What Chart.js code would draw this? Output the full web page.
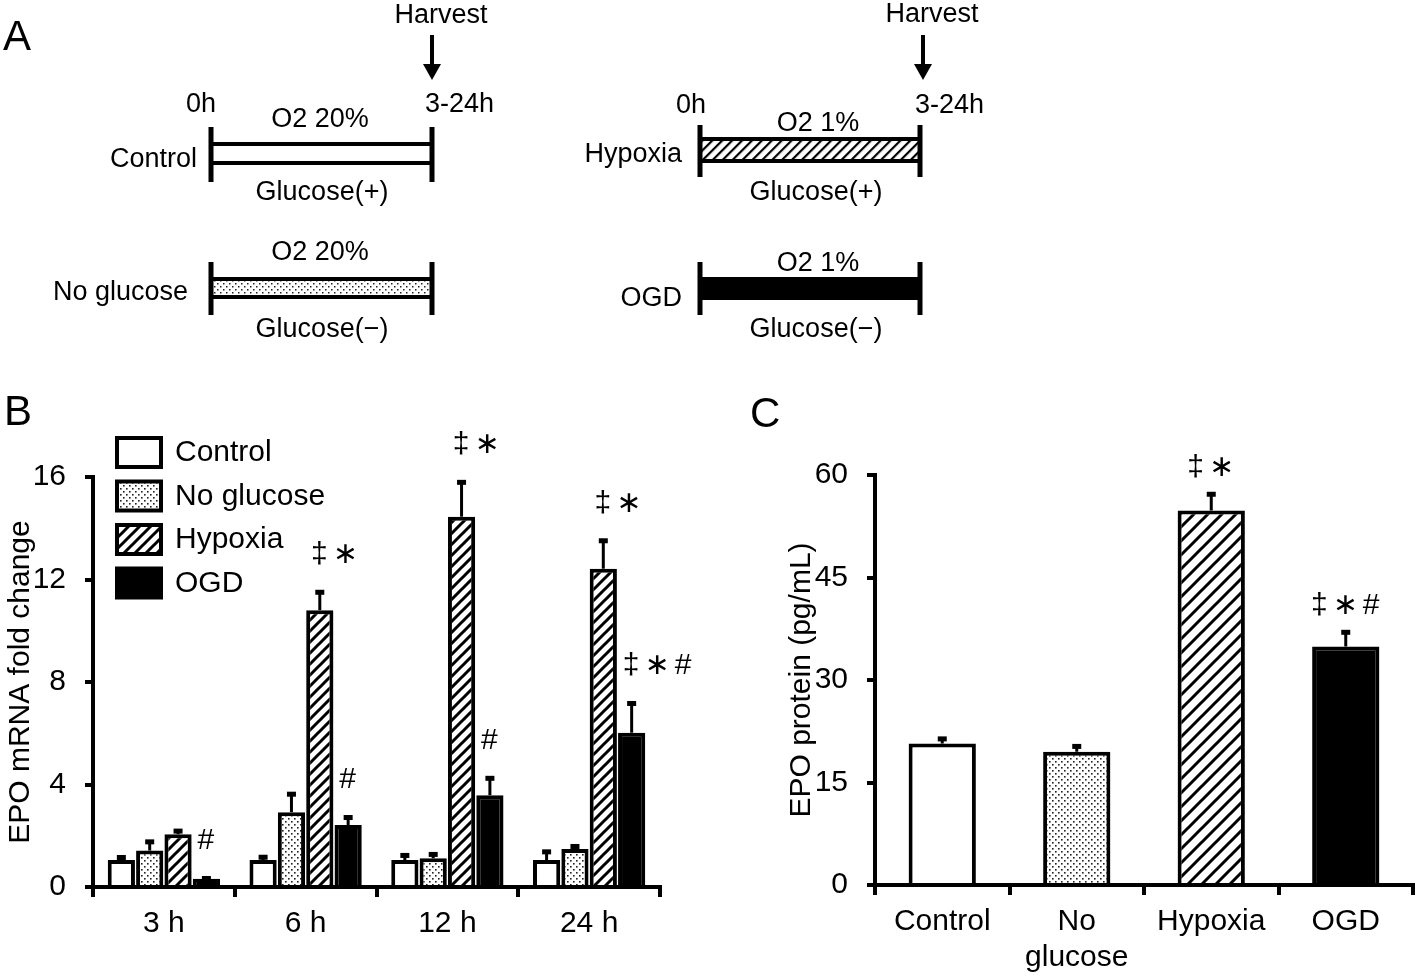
<!DOCTYPE html>
<html>
<head>
<meta charset="utf-8">
<script src="https://cdn.jsdelivr.net/npm/chart.js@4.4.1/dist/chart.umd.min.js"></script>
<style>
  html, body { margin: 0; padding: 0; background: #fff; }
  #page { position: relative; width: 1418px; height: 977px; overflow: hidden; }
  canvas { position: absolute; }
  #schema { position: absolute; left: 0; top: 0; }
</style>
</head>
<body>
<div id="page">
  <canvas id="mrnaChart" width="720" height="597" style="left:0;top:380px"></canvas>
  <canvas id="proteinChart" width="678" height="597" style="left:740px;top:380px"></canvas>

  <!-- panel A: protocol sketch, plus the panel letters -->
  <svg id="schema" width="1418" height="977" font-family="'Liberation Sans', Arial, sans-serif" font-size="27" fill="#000">
    <defs>
      <pattern id="dotsA" width="6" height="6" patternUnits="userSpaceOnUse">
        <rect x="1" y="1" width="1.5" height="1.5" fill="#222"/>
        <rect x="4" y="4" width="1.5" height="1.5" fill="#222"/>
      </pattern>
      <pattern id="hatchA" width="7" height="7" patternUnits="userSpaceOnUse" patternTransform="rotate(45)">
        <line x1="1" y1="0" x2="1" y2="7" stroke="#000" stroke-width="2.4"/>
      </pattern>
    </defs>

    <text x="3" y="50" font-size="42">A</text>
    <text x="4" y="425" font-size="42">B</text>
    <text x="750" y="427" font-size="42">C</text>

    <!-- left column -->
    <text x="441" y="23" text-anchor="middle">Harvest</text>
    <rect x="430" y="35" width="4" height="32"/>
    <polygon points="423,64 441,64 432,80"/>
    <text x="201" y="112" text-anchor="middle">0h</text>
    <text x="425" y="112">3-24h</text>

    <text x="320" y="127" text-anchor="middle">O2 20%</text>
    <text x="197" y="167" text-anchor="end">Control</text>
    <rect x="211" y="142" width="221" height="4"/>
    <rect x="211" y="161" width="221" height="4"/>
    <rect x="208.5" y="127" width="5" height="55"/>
    <rect x="429.5" y="127" width="5" height="55"/>
    <text x="322" y="200" text-anchor="middle">Glucose(+)</text>

    <text x="320" y="260" text-anchor="middle">O2 20%</text>
    <text x="188" y="300" text-anchor="end">No glucose</text>
    <rect x="211" y="280" width="221" height="16" fill="url(#dotsA)"/>
    <rect x="211" y="277" width="221" height="4"/>
    <rect x="211" y="295" width="221" height="4"/>
    <rect x="208.5" y="262" width="5" height="53"/>
    <rect x="429.5" y="262" width="5" height="53"/>
    <text x="322" y="337" text-anchor="middle">Glucose(−)</text>

    <!-- right column -->
    <text x="932" y="22" text-anchor="middle">Harvest</text>
    <rect x="921" y="35" width="4" height="32"/>
    <polygon points="914,64 932,64 923,80"/>
    <text x="691" y="113" text-anchor="middle">0h</text>
    <text x="915" y="113">3-24h</text>

    <text x="818" y="131" text-anchor="middle">O2 1%</text>
    <text x="682" y="162" text-anchor="end">Hypoxia</text>
    <rect x="700" y="139" width="220" height="21" fill="url(#hatchA)"/>
    <rect x="700" y="137" width="220" height="4"/>
    <rect x="700" y="159" width="220" height="4"/>
    <rect x="697.5" y="125" width="5" height="52"/>
    <rect x="917.5" y="125" width="5" height="52"/>
    <text x="816" y="200" text-anchor="middle">Glucose(+)</text>

    <text x="818" y="271" text-anchor="middle">O2 1%</text>
    <text x="682" y="306" text-anchor="end">OGD</text>
    <rect x="700" y="277" width="220" height="23"/>
    <rect x="697.5" y="262" width="5" height="53"/>
    <rect x="917.5" y="262" width="5" height="53"/>
    <text x="816" y="337" text-anchor="middle">Glucose(−)</text>
  </svg>
</div>

<script>
// ---- data ----
const timeLabels = ['3 h', '6 h', '12 h', '24 h'];
const groupNames = ['Control', 'No glucose', 'Hypoxia', 'OGD'];

// B: EPO mRNA fold change (mean, SEM)
const mrnaControl   = [1.05, 1.05, 1.05, 1.05];
const mrnaNoGlucose = [1.42, 2.92, 1.12, 1.48];
const mrnaHypoxia   = [2.06, 10.8, 14.45, 12.42];
const mrnaOGD       = [0.32, 2.42, 3.58, 6.02];

const mrnaControlErr   = [0.16, 0.17, 0.24, 0.38];
const mrnaNoGlucoseErr = [0.40, 0.76, 0.21, 0.16];
const mrnaHypoxiaErr   = [0.18, 0.76, 1.40, 1.15];
const mrnaOGDErr       = [0.07, 0.35, 0.72, 1.20];

const mrnaHypoxiaMarks = ['', '‡∗', '‡∗', '‡∗'];
const mrnaOGDMarks     = ['#', '#', '#', '‡∗#'];

const mrnaMax = 16, mrnaStep = 4;

// C: EPO protein (pg/mL)
const proteinLabels = ['Control', ['No', 'glucose'], 'Hypoxia', 'OGD'];
const proteinMean   = [20.7, 19.5, 54.8, 34.9];
const proteinErr    = [0.9, 1.0, 2.6, 2.3];
const proteinMarks  = ['', '', '‡∗', '‡∗#'];

const proteinMax = 60, proteinStep = 15;

// ---- look ----
const FONT = "'Liberation Sans', Arial, sans-serif";
const TXT = 30;
Chart.defaults.font.family = FONT;
Chart.defaults.color = '#000';

function dotPattern(ctx, step) {
    const c = document.createElement('canvas');
    c.width = step; c.height = step;
    const g = c.getContext('2d');
    g.fillStyle = '#fff'; g.fillRect(0, 0, step, step);
    g.fillStyle = '#222';
    g.fillRect(0, 0, 1.6, 1.6);
    g.fillRect(step / 2, step / 2, 1.6, 1.6);
    return ctx.createPattern(c, 'repeat');
}

function hatchPattern(ctx, step, lw) {
    const c = document.createElement('canvas');
    c.width = step; c.height = step;
    const g = c.getContext('2d');
    g.fillStyle = '#fff'; g.fillRect(0, 0, step, step);
    g.strokeStyle = '#000'; g.lineWidth = lw;
    g.beginPath();
    g.moveTo(-step, step * 2); g.lineTo(step * 2, -step);
    g.moveTo(-step, step); g.lineTo(step, -step);
    g.moveTo(0, step * 2); g.lineTo(step * 2, 0);
    g.stroke();
    return ctx.createPattern(c, 'repeat');
}

// error bars (upper only) and significance marks
const errorBarPlugin = {
    id: 'errorBars',
    afterDatasetsDraw(chart, args, opts) {
        const ctx = chart.ctx;
        const yScale = chart.scales.y;
        chart.data.datasets.forEach((ds, i) => {
            const meta = chart.getDatasetMeta(i);
            meta.data.forEach((bar, j) => {
                const top = yScale.getPixelForValue(ds.data[j] + ds.errors[j]);
                ctx.save();
                ctx.strokeStyle = '#000';
                ctx.fillStyle = '#000';
                ctx.lineWidth = 3;
                ctx.beginPath();
                ctx.moveTo(bar.x, bar.y);
                ctx.lineTo(bar.x, top);
                ctx.stroke();
                ctx.fillRect(bar.x - 4.5, top - 1, 9, 5);

                const mark = ds.marks ? ds.marks[j] : '';
                if (mark) {
                    ctx.font = TXT + 'px ' + FONT + ", 'DejaVu Sans'";
                    ctx.textBaseline = 'middle';
                    ctx.letterSpacing = '5px';
                    const y = top - opts.markGap;
                    if (opts.markAlign === 'first') {
                        const w = ctx.measureText(mark[0]).width;
                        ctx.textAlign = 'left';
                        ctx.fillText(mark, bar.x - w / 2 + 2, y);
                    } else {
                        ctx.textAlign = 'center';
                        ctx.fillText(mark, bar.x + 2, y);
                    }
                }
                ctx.restore();
            });
        });
    }
};

// legend drawn inside panel B
const boxLegendPlugin = {
    id: 'boxLegend',
    afterDraw(chart, args, opts) {
        if (!opts.show) return;
        const { ctx, chartArea } = chart;
        chart.data.datasets.forEach((ds, i) => {
            const cy = chartArea.top - 25 + i * 43.5;
            const bx = chartArea.left + 24;
            ctx.save();
            ctx.fillStyle = ds.backgroundColor;
            ctx.fillRect(bx, cy - 14, 44, 29);
            ctx.strokeStyle = '#000';
            ctx.lineWidth = 4;
            ctx.strokeRect(bx, cy - 14, 44, 29);
            ctx.fillStyle = '#000';
            ctx.font = TXT + 'px ' + FONT;
            ctx.textAlign = 'left';
            ctx.textBaseline = 'middle';
            ctx.fillText(ds.label, bx + 58, cy + 1);
            ctx.restore();
        });
    }
};

function axisOptions(max, step, title, yWidth, xHeight, titlePad) {
    return {
        x: {
            grid: { offset: true, drawOnChartArea: false, drawTicks: true, tickLength: 10,
                    tickWidth: 4, tickColor: '#000', color: '#000', lineWidth: 4 },
            border: { color: '#000', width: 4 },
            ticks: { font: { size: TXT, lineHeight: 1.2 }, color: '#000', padding: 9 },
            afterFit(scale) { scale.height = xHeight; }
        },
        y: {
            min: 0, max: max,
            grid: { drawOnChartArea: false, drawTicks: true, tickLength: 8,
                    tickWidth: 4, tickColor: '#000', color: '#000', lineWidth: 4 },
            border: { color: '#000', width: 4 },
            ticks: { stepSize: step, font: { size: TXT }, color: '#000', padding: 19 },
            title: { display: true, text: title, font: { size: TXT }, color: '#000',
                     padding: { top: titlePad, bottom: 0 } },
            afterFit(scale) { scale.width = yWidth; }
        }
    };
}

// ---- panel B ----
const ctxB = document.getElementById('mrnaChart').getContext('2d');
const dotsB = dotPattern(ctxB, 6);
const hatchB = hatchPattern(ctxB, 11, 3);

new Chart(ctxB, {
    type: 'bar',
    data: {
        labels: timeLabels,
        datasets: [
            { label: groupNames[0], data: mrnaControl, errors: mrnaControlErr, backgroundColor: '#fff' },
            { label: groupNames[1], data: mrnaNoGlucose, errors: mrnaNoGlucoseErr, backgroundColor: dotsB },
            { label: groupNames[2], data: mrnaHypoxia, errors: mrnaHypoxiaErr, marks: mrnaHypoxiaMarks, backgroundColor: hatchB },
            { label: groupNames[3], data: mrnaOGD, errors: mrnaOGDErr, marks: mrnaOGDMarks, backgroundColor: '#000' }
        ].map(ds => Object.assign(ds, { borderColor: '#000', borderWidth: 4,
                                        categoryPercentage: 0.8, barPercentage: 0.96 }))
    },
    options: {
        responsive: false,
        animation: false,
        events: [],
        layout: { padding: { top: 97, right: 60, left: 0, bottom: 0 } },
        plugins: {
            legend: { display: false },
            tooltip: { enabled: false },
            errorBars: { markGap: 36, markAlign: 'first' },
            boxLegend: { show: true }
        },
        scales: axisOptions(mrnaMax, mrnaStep, 'EPO mRNA fold change', 93, 90, 3)
    },
    plugins: [errorBarPlugin, boxLegendPlugin]
});

// ---- panel C ----
const ctxC = document.getElementById('proteinChart').getContext('2d');
const dotsC = dotPattern(ctxC, 6);
const hatchC = hatchPattern(ctxC, 14, 3);

new Chart(ctxC, {
    type: 'bar',
    data: {
        labels: proteinLabels,
        datasets: [{
            label: 'EPO protein',
            data: proteinMean,
            errors: proteinErr,
            marks: proteinMarks,
            backgroundColor: ['#fff', dotsC, hatchC, '#000'],
            borderColor: '#000',
            borderWidth: 4,
            categoryPercentage: 0.5,
            barPercentage: 1.0
        }]
    },
    options: {
        responsive: false,
        animation: false,
        events: [],
        layout: { padding: { top: 95, right: 5, left: 0, bottom: 0 } },
        plugins: {
            legend: { display: false },
            tooltip: { enabled: false },
            errorBars: { markGap: 25, markAlign: 'center' },
            boxLegend: { show: false }
        },
        scales: axisOptions(proteinMax, proteinStep, 'EPO protein (pg/mL)', 135, 92, 44)
    },
    plugins: [errorBarPlugin, boxLegendPlugin]
});
</script>
</body>
</html>
